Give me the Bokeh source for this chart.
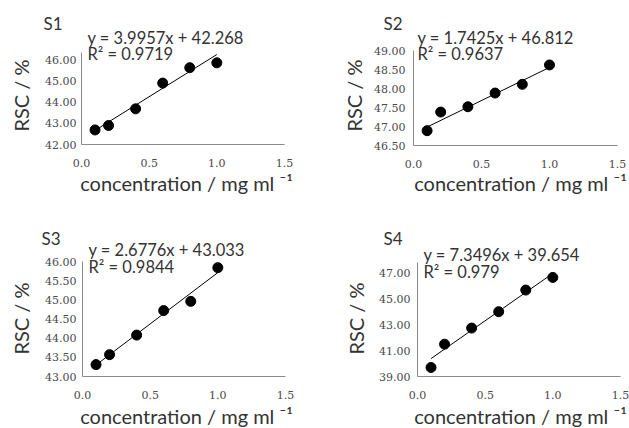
import math
from bokeh.plotting import figure
from bokeh.models import Range1d, FixedTicker, NumeralTickFormatter, Label
from bokeh.layouts import column, row
from bokeh.embed import file_html
from bokeh.resources import INLINE

# ---------------- data ----------------
conc = [0.1, 0.2, 0.4, 0.6, 0.8, 1.0]
rsc_s1 = [42.69, 42.90, 43.69, 44.91, 45.64, 45.87]
rsc_s2 = [46.89, 47.38, 47.52, 47.88, 48.11, 48.62]
rsc_s3 = [43.31, 43.57, 44.08, 44.72, 44.96, 45.84]
rsc_s4 = [39.70, 41.51, 42.76, 44.03, 45.71, 46.69]
sample_names = ["S1", "S2", "S3", "S4"]
slopes = [3.9957, 1.7425, 2.6776, 7.3496]
intercepts = [42.268, 46.812, 43.033, 39.654]
r_squared = ["0.9719", "0.9637", "0.9844", "0.979"]
fit_x = [0.1, 1.0]
x_ticks = [0.0, 0.5, 1.0, 1.5]
x_axis_lo, x_axis_hi = 0.0, 1.5
y_ticks_s1 = [42, 43, 44, 45, 46]
y_ticks_s2 = [46.5, 47, 47.5, 48, 48.5, 49]
y_ticks_s3 = [43, 43.5, 44, 44.5, 45, 45.5, 46]
y_ticks_s4 = [39, 41, 43, 45, 47]
y_axis_lo = [42.0, 46.5, 43.0, 39.0]
y_axis_hi = [46.36, 49.0, 46.0, 47.85]
y_label = "RSC / %"
x_label = "concentration / mg ml \u207b\u00b9"

series = [rsc_s1, rsc_s2, rsc_s3, rsc_s4]
y_ticks = [y_ticks_s1, y_ticks_s2, y_ticks_s3, y_ticks_s4]

# ---------------- layout (page pixel coords) ----------------
SANS = "Lato"
TICKFONT = "DejaVu Serif"
TEXT = "#333333"
AXIS = "#8a8a8a"

# axes box: (left, right, top, bottom) of the drawn axis lines, in page pixels
layout = [
    dict(origin=(0, 0), w=310, h=210, box=(81, 284, 52, 144), ytick_so=5,
         title=(43, 23), eq=(87, 37, 53), ylab=(20, 95), xlab=(186, 182)),
    dict(origin=(310, 0), w=319, h=210, box=(413, 617, 50, 145), ytick_so=8,
         title=(383, 23), eq=(417, 37, 53), ylab=(353, 95), xlab=(520, 182)),
    dict(origin=(0, 210), w=310, h=218, box=(82, 285, 261, 376), ytick_so=6,
         title=(41, 238), eq=(88, 249, 266), ylab=(20, 318), xlab=(186, 415)),
    dict(origin=(310, 210), w=319, h=218, box=(417, 620, 262, 376), ytick_so=7,
         title=(383, 238), eq=(423, 254, 271), ylab=(355, 318), xlab=(520, 415)),
]


def make_panel(i):
    cfg = layout[i]
    ox, oy = cfg["origin"]
    L, R, T, B = cfg["box"]
    w, h = cfg["w"], cfg["h"]
    lo, hi = y_axis_lo[i], y_axis_hi[i]
    # the frame fills the whole canvas; the axes sit at fixed data locations
    pxu = (R - L) / (x_axis_hi - x_axis_lo)
    pyu = (B - T) / (hi - lo)
    xr = Range1d(x_axis_lo - (L - ox) / pxu, x_axis_hi + (ox + w - R) / pxu)
    yr = Range1d(lo - (oy + h - B) / pyu, hi + (T - oy) / pyu)
    p = figure(width=w, height=h, output_backend="svg", toolbar_location=None,
               x_range=xr, y_range=yr, min_border=0,
               min_border_left=0, min_border_right=0,
               min_border_top=0, min_border_bottom=0)
    p.outline_line_color = None
    p.xgrid.visible = False
    p.ygrid.visible = False
    p.background_fill_color = "white"
    p.border_fill_color = "white"

    for ax in (p.xaxis[0], p.yaxis[0]):
        ax.axis_line_color = AXIS
        ax.axis_line_width = 1
        ax.major_tick_line_color = None
        ax.minor_tick_line_color = None
        ax.major_tick_out = 0
        ax.major_tick_in = 0
        ax.major_label_text_font = TICKFONT
        ax.major_label_text_font_size = "11px"
        ax.major_label_text_color = "#4a4a4a"
    p.xaxis.ticker = FixedTicker(ticks=x_ticks)
    p.xaxis.formatter = NumeralTickFormatter(format="0.0")
    p.xaxis.major_label_standoff = 14
    p.xaxis.fixed_location = lo
    p.xaxis.bounds = (x_axis_lo, x_axis_hi)
    p.yaxis.ticker = FixedTicker(ticks=y_ticks[i])
    p.yaxis.formatter = NumeralTickFormatter(format="0.00")
    p.yaxis.major_label_standoff = cfg["ytick_so"]
    p.yaxis.fixed_location = x_axis_lo
    p.yaxis.bounds = (lo, hi)

    # trend line from the fitted equation
    fit_y = [slopes[i] * xv + intercepts[i] for xv in fit_x]
    p.line(fit_x, fit_y, line_color="black", line_width=1)
    p.scatter(conc, series[i], size=10, fill_color="black", line_color="black")

    def sx(px):
        return px - ox

    def sy(py):
        return (oy + h) - py

    tx, ty = cfg["title"]
    p.add_layout(Label(x=sx(tx), y=sy(ty), x_units="screen", y_units="screen",
                       text=sample_names[i], text_font=SANS, text_font_size="17px",
                       text_color=TEXT, text_baseline="middle", text_align="left"))
    ex, ey1, ey2 = cfg["eq"]
    p.add_layout(Label(x=sx(ex), y=sy(ey1), x_units="screen", y_units="screen",
                       text=f"y = {slopes[i]}x + {intercepts[i]:.3f}", text_font=SANS,
                       text_font_size="16.5px", text_color=TEXT,
                       text_baseline="middle", text_align="left"))
    p.add_layout(Label(x=sx(ex), y=sy(ey2), x_units="screen", y_units="screen",
                       text=f"R\u00b2 = {r_squared[i]}", text_font=SANS,
                       text_font_size="16.5px", text_color=TEXT,
                       text_baseline="middle", text_align="left"))
    lx, ly = cfg["ylab"]
    p.add_layout(Label(x=sx(lx), y=sy(ly), x_units="screen", y_units="screen",
                       text=y_label, angle=math.pi / 2, text_font=SANS,
                       text_font_size="20px", text_color=TEXT,
                       text_baseline="middle", text_align="center"))
    xx, xy = cfg["xlab"]
    p.add_layout(Label(x=sx(xx), y=sy(xy), x_units="screen", y_units="screen",
                       text=x_label, text_font=SANS, text_font_size="20px",
                       text_color=TEXT, text_baseline="middle", text_align="center"))
    return p


panels = [make_panel(i) for i in range(4)]
page = column(row(panels[0], panels[1]), row(panels[2], panels[3]))

with open("out.html", "w") as f:
    f.write(file_html(page, INLINE))
